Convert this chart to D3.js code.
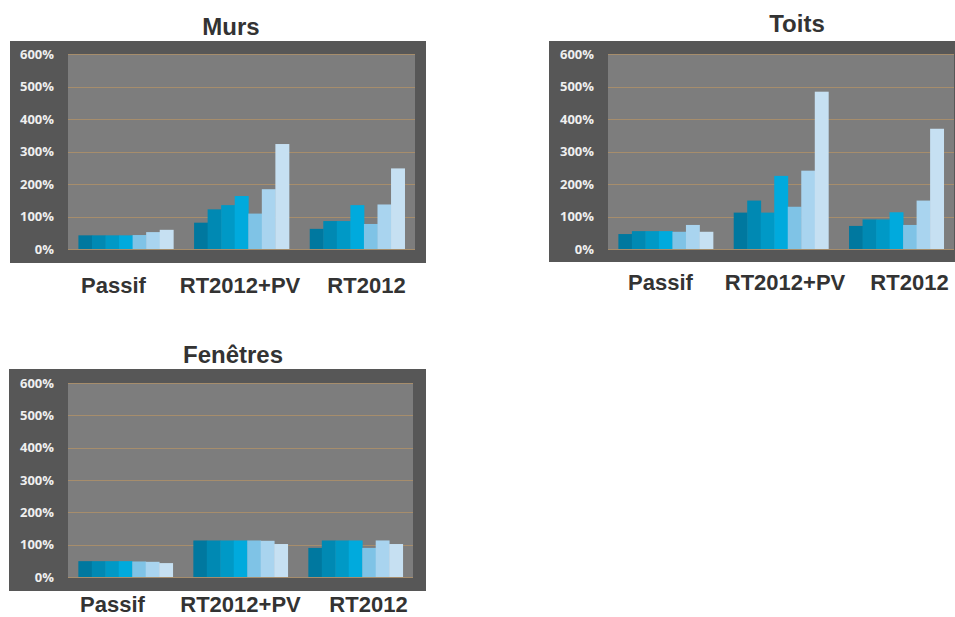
<!DOCTYPE html>
<html>
<head>
<meta charset="utf-8">
<script src="https://cdn.jsdelivr.net/npm/d3@7"></script>
<style>
  html, body { margin: 0; padding: 0; background: #ffffff; }
  svg { display: block; }
</style>
</head>
<body>
<svg id="chart" width="955" height="617"></svg>
<script>
// ---- data ----
const categories = ["Passif", "RT2012+PV", "RT2012"];
const series = ["s1", "s2", "s3", "s4", "s5", "s6", "s7"];
const seriesColors = ["#00789f", "#0089b3", "#0099c6", "#00aadd", "#7fc3e6", "#a9d4ef", "#c6e0f2"];
const yTicks = [0, 100, 200, 300, 400, 500, 600];

const mursValues = [
  [42, 42, 42, 42, 43, 52, 59],
  [81, 122, 135, 163, 109, 184, 323],
  [62, 86, 86, 135, 77, 137, 248]
];
const toitsValues = [
  [46, 55, 55, 55, 53, 74, 53],
  [112, 149, 112, 225, 130, 241, 484],
  [71, 91, 91, 113, 74, 149, 370]
];
const fenetresValues = [
  [49, 49, 49, 49, 48, 47, 43],
  [113, 113, 113, 113, 113, 112, 102],
  [90, 113, 113, 113, 90, 113, 102]
];

const svg = d3.select("#chart");

function drawChart(cfg) {
  const g = svg.append("g");
  // frame
  g.append("rect")
    .attr("x", cfg.frame[0]).attr("y", cfg.frame[1])
    .attr("width", cfg.frame[2] - cfg.frame[0]).attr("height", cfg.frame[3] - cfg.frame[1])
    .attr("fill", "#575757");
  // plot area
  const x = d3.scaleBand().domain(categories).range([cfg.plot[0], cfg.plot[2]])
    .paddingInner(0.18).paddingOuter(0.09);
  const y = d3.scaleLinear().domain([0, 600]).range([cfg.plot[3], cfg.plot[1]]);
  const xs = d3.scaleBand().domain(series).range([0, x.bandwidth()]).padding(0);

  g.append("rect")
    .attr("x", cfg.plot[0]).attr("y", y(600))
    .attr("width", cfg.plot[2] - cfg.plot[0]).attr("height", y(0) - y(600))
    .attr("fill", "#7d7d7d");

  // gridlines
  g.append("g").selectAll("line").data(yTicks).join("line")
    .attr("x1", cfg.plot[0]).attr("x2", cfg.plot[2])
    .attr("y1", d => Math.round(y(d)) + 0.5).attr("y2", d => Math.round(y(d)) + 0.5)
    .attr("stroke", "#a68d6c").attr("stroke-width", 1.2);

  // y axis labels
  const yAxis = d3.axisLeft(y).tickValues(yTicks).tickFormat(d => d + "%").tickSize(0).tickPadding(0);
  const ya = g.append("g").attr("transform", `translate(${cfg.tickX},0)`).call(yAxis);
  ya.select(".domain").remove();
  ya.selectAll("text")
    .attr("fill", "#efefef")
    .style("font-family", "'Open Sans', 'DejaVu Sans', sans-serif")
    .style("font-weight", "700")
    .style("font-size", "13px");

  // bars
  const groups = g.append("g").selectAll("g").data(categories).join("g")
    .attr("transform", d => `translate(${x(d)},0)`);
  groups.selectAll("rect")
    .data((c, ci) => series.map((s, si) => ({ s, si, v: cfg.values[ci][si] })))
    .join("rect")
    .attr("x", d => xs(d.s))
    .attr("width", xs.bandwidth() + 0.4)
    .attr("y", d => y(d.v))
    .attr("height", d => y(0) - y(d.v))
    .attr("fill", d => seriesColors[d.si]);

  // title
  g.append("text")
    .attr("x", cfg.titleX).attr("y", cfg.titleY)
    .attr("text-anchor", "middle")
    .attr("fill", "#333333")
    .style("font-family", "'Liberation Sans', Arial, sans-serif")
    .style("font-weight", "700")
    .style("font-size", "24px")
    .text(cfg.title);

  // category labels
  const xl = d3.scalePoint().domain(categories).range(cfg.labelRange);
  const xa = d3.axisBottom(xl).tickSize(0).tickPadding(0);
  const xg = g.append("g").attr("transform", `translate(0,${cfg.labelY})`).call(xa);
  xg.select(".domain").remove();
  xg.selectAll("text")
    .attr("dy", "0")
    .attr("fill", "#333333")
    .style("font-family", "'Liberation Sans', Arial, sans-serif")
    .style("font-weight", "700")
    .style("font-size", "22px");
}

drawChart({
  title: "Murs", values: mursValues,
  frame: [10, 41, 426, 263], plot: [68, 54, 415, 249],
  tickX: 54, titleX: 231, titleY: 35,
  labelRange: [113, 366], labelY: 293
});
drawChart({
  title: "Toits", values: toitsValues,
  frame: [549, 41, 962, 262], plot: [608, 54, 954, 249],
  tickX: 594, titleX: 797, titleY: 32,
  labelRange: [660, 909], labelY: 290
});
drawChart({
  title: "Fenêtres", values: fenetresValues,
  frame: [9, 369, 426, 591], plot: [68, 383, 413, 577],
  tickX: 54, titleX: 233, titleY: 363,
  labelRange: [112, 368], labelY: 612
});
</script>
</body>
</html>
